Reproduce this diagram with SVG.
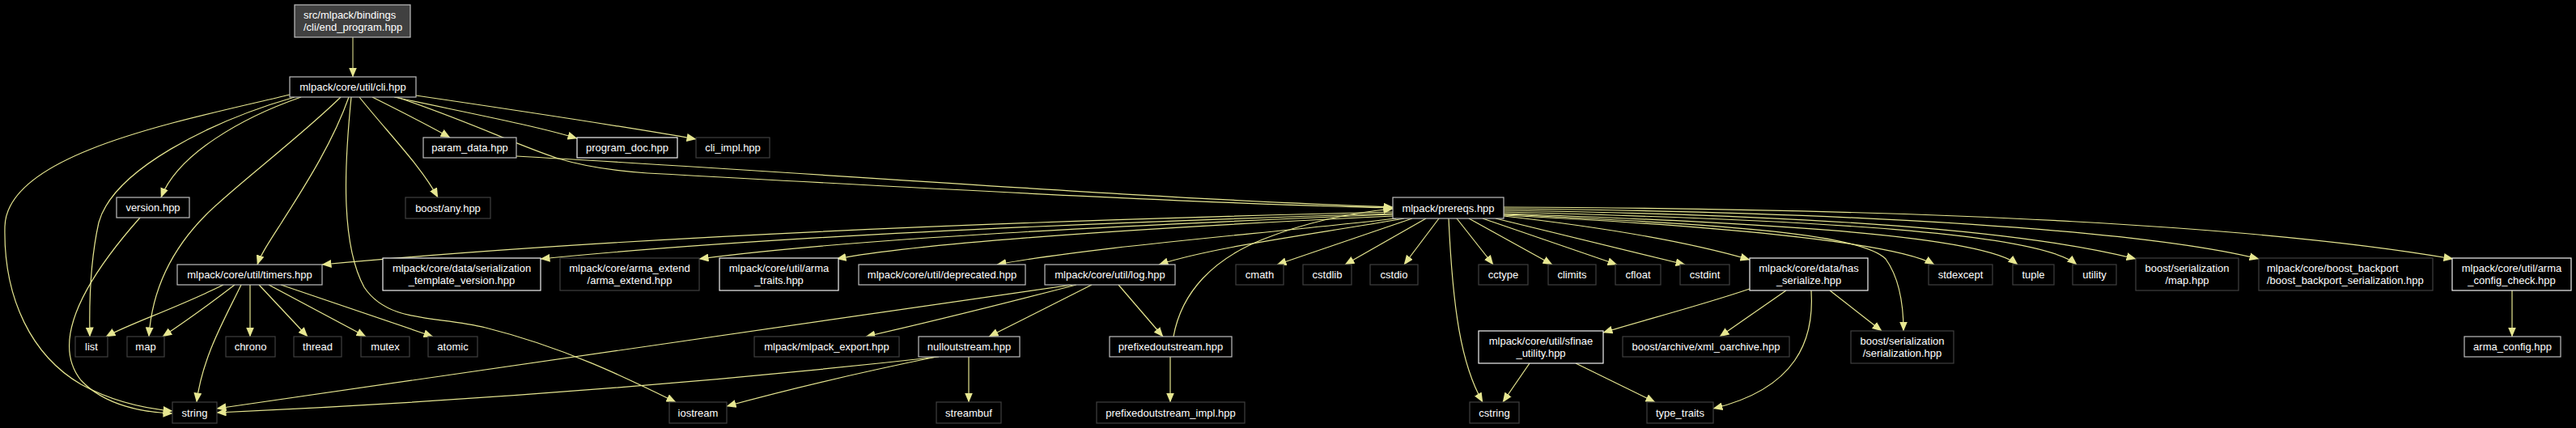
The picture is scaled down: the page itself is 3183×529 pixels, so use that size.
<svg xmlns="http://www.w3.org/2000/svg" width="3183" height="529" viewBox="0 0 3183 529">
<style>
.bg{fill:#000}
.n rect{fill:#000;stroke:#bfbfbf;stroke-width:1.2}
.w rect{stroke:#f2f2f2}
.u rect{fill:#000;stroke:#404040;stroke-width:1.2}
.r rect{fill:#404040;stroke:#bfbfbf;stroke-width:1.2}
text{font-family:"Liberation Sans",Arial,sans-serif;font-size:13px;fill:#ffffff;text-anchor:middle}
text.l{text-anchor:start}
.e path{fill:none;stroke:#e6e690;stroke-width:1.2;marker-end:url(#a)}
</style>
<defs>
<marker id="a" viewBox="0 0 12 10" refX="11.5" refY="5" markerWidth="12" markerHeight="10" markerUnits="userSpaceOnUse" orient="auto">
<path d="M0,0 L12,5 L0,10 z" fill="#e6e690"/>
</marker>
</defs>
<rect class="bg" x="0" y="0" width="3183" height="529"/>
<g id="edges" class="e">
<path d="M436,46 L436,95" style="stroke:#c8c880"/>
<path d="M358,117 C220,150 8,190 6,280 C4,370 40,440 100,475 C140,497 180,505 213,508"/>
<path d="M364,120 C260,150 140,210 122,275 C112,320 110,370 111,416"/>
<path d="M372,120 C300,145 220,190 199,244"/>
<path d="M421,120 C370,170 290,230 255,265 C215,305 188,355 184,416"/>
<path d="M431,120 C410,180 370,240 348,275 C332,300 322,315 318,327"/>
<path d="M434,120 C426,200 420,300 450,355 C480,400 540,390 600,405 C700,430 780,470 835,497"/>
<path d="M444,120 C480,165 520,205 541,244"/>
<path d="M460,120 C500,140 530,155 556,170"/>
<path d="M487,120 C580,140 660,155 713,171"/>
<path d="M514,118 C650,138 780,158 860,172"/>
<path d="M490,120 C580,150 640,180 690,196 C730,208 770,212 800,214 C1200,236 1500,252 1721,257"/>
<path d="M638,193 C1000,213 1400,245 1721,256"/>
<path d="M1450,416 C1460,360 1500,320 1560,296 C1620,272 1680,262 1721,258"/>
<path d="M173,269 C110,340 60,420 100,470 C130,502 180,510 213,511"/>
<path d="M276,352 C220,380 160,400 131,416"/>
<path d="M290,352 C260,375 225,400 201,416"/>
<path d="M298,352 C280,390 250,440 243,497"/>
<path d="M309,352 L309,416"/>
<path d="M320,352 L380,416"/>
<path d="M332,352 L452,416"/>
<path d="M347,352 L535,416"/>
<path d="M1721,262 C1300,272 800,290 398,327"/>
<path d="M1721,264 C1350,275 950,292 668,320"/>
<path d="M1721,265 C1400,278 1050,295 864,320"/>
<path d="M1721,267 C1450,280 1150,298 1034,320"/>
<path d="M1725,270 C1550,290 1350,305 1232,327"/>
<path d="M1735,270 C1620,290 1500,305 1432,327"/>
<path d="M1745,270 L1578,327"/>
<path d="M1762,270 L1662,327"/>
<path d="M1778,270 L1735,327"/>
<path d="M1790,270 C1795,380 1805,450 1832,497"/>
<path d="M1800,270 L1845,327"/>
<path d="M1815,270 L1918,327"/>
<path d="M1832,270 L1998,327"/>
<path d="M1848,270 L2082,327"/>
<path d="M1858,267 C2000,283 2100,303 2162,321"/>
<path d="M1858,266 C2100,278 2340,298 2390,327"/>
<path d="M1858,264 C2200,276 2450,292 2493,327"/>
<path d="M1858,262 C2250,272 2520,288 2566,327"/>
<path d="M1858,265 C2150,278 2300,290 2330,320 C2348,345 2352,380 2352,409"/>
<path d="M1858,260 C2250,266 2500,285 2639,320"/>
<path d="M1858,258 C2300,262 2650,285 2791,320"/>
<path d="M1858,256 C2400,258 2800,280 3031,320"/>
<path d="M1325,352 C1100,382 700,440 268,505"/>
<path d="M1330,352 C1230,378 1140,400 1070,416"/>
<path d="M1349,352 L1222,416"/>
<path d="M1382,352 L1437,416"/>
<path d="M1160,441 C900,470 600,495 268,510"/>
<path d="M1157,441 C1050,463 960,485 898,502"/>
<path d="M1197,441 L1197,497"/>
<path d="M1446,441 L1446,497"/>
<path d="M2162,357 C2100,378 2030,396 1981,411"/>
<path d="M2207,359 L2125,416"/>
<path d="M2261,359 L2325,409"/>
<path d="M2238,359 C2242,420 2220,480 2117,505"/>
<path d="M1890,449 L1857,497"/>
<path d="M1947,449 L2045,497"/>
<path d="M3104,359 L3104,416"/>
</g>
<g id="node-end_program" class="r"><rect x="364" y="6" width="143" height="40"/><text class="l" x="375" y="22.5">src/mlpack/bindings</text><text class="l" x="375" y="37.5">/cli/end_program.hpp</text></g>
<g id="node-cli" class="n"><rect x="358" y="95" width="156" height="25"/><text x="436" y="112">mlpack/core/util/cli.hpp</text></g>
<g id="node-param_data" class="n"><rect x="523" y="170" width="115" height="25"/><text x="580.5" y="187">param_data.hpp</text></g>
<g id="node-program_doc" class="n w"><rect x="713" y="170" width="124" height="25"/><text x="775" y="187">program_doc.hpp</text></g>
<g id="node-cli_impl" class="u"><rect x="860" y="170" width="91" height="25"/><text x="905.5" y="187">cli_impl.hpp</text></g>
<g id="node-version" class="n"><rect x="144" y="244" width="90" height="25"/><text x="189" y="261">version.hpp</text></g>
<g id="node-boost_any" class="u"><rect x="501" y="244" width="105" height="26"/><text x="553.5" y="261.5">boost/any.hpp</text></g>
<g id="node-prereqs" class="n"><rect x="1721" y="244" width="137" height="26"/><text x="1789.5" y="261.5">mlpack/prereqs.hpp</text></g>
<g id="node-timers" class="n"><rect x="219" y="327" width="179" height="25"/><text x="308.5" y="344">mlpack/core/util/timers.hpp</text></g>
<g id="node-stv" class="n w"><rect x="473" y="319" width="195" height="40"/><text x="570.5" y="335.5">mlpack/core/data/serialization</text><text x="570.5" y="350.5">_template_version.hpp</text></g>
<g id="node-arma_extend" class="u"><rect x="692" y="319" width="172" height="40"/><text x="778" y="335.5">mlpack/core/arma_extend</text><text x="778" y="350.5">/arma_extend.hpp</text></g>
<g id="node-arma_traits" class="n w"><rect x="889" y="319" width="147" height="40"/><text x="962.5" y="335.5">mlpack/core/util/arma</text><text x="962.5" y="350.5">_traits.hpp</text></g>
<g id="node-deprecated" class="n"><rect x="1061" y="327" width="206" height="25"/><text x="1164" y="344">mlpack/core/util/deprecated.hpp</text></g>
<g id="node-log" class="n"><rect x="1291" y="327" width="161" height="25"/><text x="1371.5" y="344">mlpack/core/util/log.hpp</text></g>
<g id="node-cmath" class="u"><rect x="1527" y="327" width="59" height="25"/><text x="1556.5" y="344">cmath</text></g>
<g id="node-cstdlib" class="u"><rect x="1610" y="327" width="60" height="25"/><text x="1640" y="344">cstdlib</text></g>
<g id="node-cstdio" class="u"><rect x="1693" y="327" width="59" height="25"/><text x="1722.5" y="344">cstdio</text></g>
<g id="node-cctype" class="u"><rect x="1827" y="327" width="61" height="25"/><text x="1857.5" y="344">cctype</text></g>
<g id="node-climits" class="u"><rect x="1913" y="327" width="59" height="25"/><text x="1942.5" y="344">climits</text></g>
<g id="node-cfloat" class="u"><rect x="1996" y="327" width="56" height="25"/><text x="2024" y="344">cfloat</text></g>
<g id="node-cstdint" class="u"><rect x="2076" y="327" width="61" height="25"/><text x="2106.5" y="344">cstdint</text></g>
<g id="node-has_serialize" class="n w"><rect x="2162" y="319" width="146" height="40"/><text x="2235" y="335.5">mlpack/core/data/has</text><text x="2235" y="350.5">_serialize.hpp</text></g>
<g id="node-stdexcept" class="u"><rect x="2383" y="327" width="79" height="25"/><text x="2422.5" y="344">stdexcept</text></g>
<g id="node-tuple" class="u"><rect x="2487" y="327" width="51" height="25"/><text x="2512.5" y="344">tuple</text></g>
<g id="node-utility" class="u"><rect x="2561" y="327" width="54" height="25"/><text x="2588" y="344">utility</text></g>
<g id="node-bs_map" class="u"><rect x="2639" y="319" width="127" height="40"/><text x="2702.5" y="335.5">boost/serialization</text><text x="2702.5" y="350.5">/map.hpp</text></g>
<g id="node-boost_backport" class="u"><rect x="2791" y="319" width="215" height="40"/><text class="l" x="2801" y="335.5">mlpack/core/boost_backport</text><text class="l" x="2801" y="350.5">/boost_backport_serialization.hpp</text></g>
<g id="node-arma_config_check" class="n w"><rect x="3030" y="319" width="147" height="40"/><text x="3103.5" y="335.5">mlpack/core/util/arma</text><text x="3103.5" y="350.5">_config_check.hpp</text></g>
<g id="node-arma_config" class="n"><rect x="3045" y="416" width="119" height="25"/><text x="3104.5" y="433">arma_config.hpp</text></g>
<g id="node-list" class="u"><rect x="93" y="416" width="40" height="25"/><text x="113" y="433">list</text></g>
<g id="node-map" class="u"><rect x="157" y="416" width="46" height="25"/><text x="180" y="433">map</text></g>
<g id="node-chrono" class="u"><rect x="279" y="416" width="61" height="25"/><text x="309.5" y="433">chrono</text></g>
<g id="node-thread" class="u"><rect x="363" y="416" width="59" height="25"/><text x="392.5" y="433">thread</text></g>
<g id="node-mutex" class="u"><rect x="446" y="416" width="60" height="25"/><text x="476" y="433">mutex</text></g>
<g id="node-atomic" class="u"><rect x="529" y="416" width="61" height="25"/><text x="559.5" y="433">atomic</text></g>
<g id="node-string" class="u"><rect x="213" y="497" width="55" height="26"/><text x="240.5" y="514.5">string</text></g>
<g id="node-mlpack_export" class="u"><rect x="932" y="416" width="179" height="25"/><text x="1021.5" y="433">mlpack/mlpack_export.hpp</text></g>
<g id="node-nulloutstream" class="n"><rect x="1135" y="416" width="125" height="25"/><text x="1197.5" y="433">nulloutstream.hpp</text></g>
<g id="node-prefixedoutstream" class="n"><rect x="1371" y="416" width="151" height="25"/><text x="1446.5" y="433">prefixedoutstream.hpp</text></g>
<g id="node-iostream" class="u"><rect x="827" y="497" width="71" height="26"/><text x="862.5" y="514.5">iostream</text></g>
<g id="node-streambuf" class="u"><rect x="1157" y="497" width="80" height="26"/><text x="1197" y="514.5">streambuf</text></g>
<g id="node-prefixedoutstream_impl" class="u"><rect x="1355" y="497" width="183" height="26"/><text x="1446.5" y="514.5">prefixedoutstream_impl.hpp</text></g>
<g id="node-sfinae_utility" class="n w"><rect x="1827" y="409" width="154" height="40"/><text x="1904" y="425.5">mlpack/core/util/sfinae</text><text x="1904" y="440.5">_utility.hpp</text></g>
<g id="node-xml_oarchive" class="u"><rect x="2005" y="416" width="206" height="25"/><text x="2108" y="433">boost/archive/xml_oarchive.hpp</text></g>
<g id="node-bs_serialization" class="u"><rect x="2287" y="409" width="127" height="40"/><text x="2350.5" y="425.5">boost/serialization</text><text x="2350.5" y="440.5">/serialization.hpp</text></g>
<g id="node-cstring" class="u"><rect x="1816" y="497" width="61" height="26"/><text x="1846.5" y="514.5">cstring</text></g>
<g id="node-type_traits" class="u"><rect x="2035" y="497" width="82" height="26"/><text x="2076" y="514.5">type_traits</text></g>
</svg>
